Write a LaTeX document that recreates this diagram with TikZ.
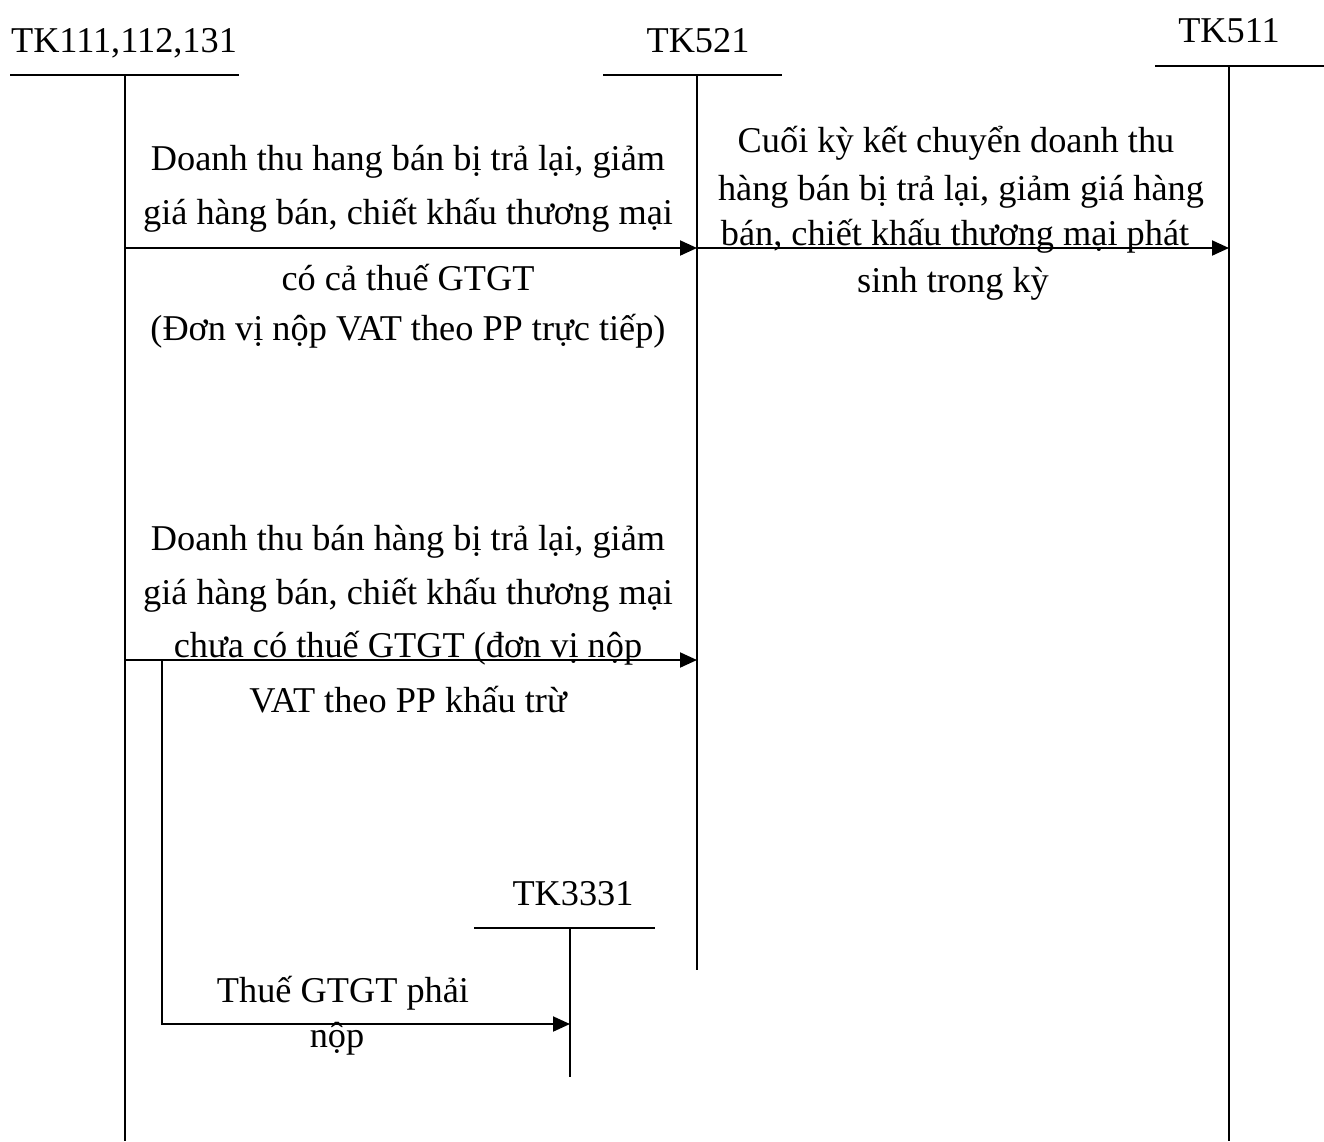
\documentclass[tikz,border=0pt]{standalone}
\usepackage{fontspec}
\setmainfont{Liberation Serif}
\usetikzlibrary{arrows.meta}
\begin{document}
\begin{tikzpicture}[x=1pt,y=-1pt,
  lbl/.style={font=\fontsize{36.3}{40}\selectfont, inner sep=0pt, anchor=base},
  acct/.style={line width=2pt},
  flow/.style={line width=2pt, -{Triangle[length=17pt,width=15pt]}}]
\useasboundingbox (0,0) rectangle (1324,1141);
% account labels
\node[lbl] (tk111) at (124,52) {TK111,112,131};
\node[lbl] (tk521) at (698,52) {TK521};
\node[lbl] (tk511) at (1229,42) {TK511};
\node[lbl] (tk3331) at (573,905) {TK3331};
% T-account coordinates
\coordinate (a1l) at (10,75); \coordinate (a1r) at (239,75);
\coordinate (a1t) at (125,75); \coordinate (a1b) at (125,1141);
\coordinate (a2l) at (603,75); \coordinate (a2r) at (782,75);
\coordinate (a2t) at (697,75); \coordinate (a2b) at (697,970);
\coordinate (a3l) at (1155,66); \coordinate (a3r) at (1324,66);
\coordinate (a3t) at (1229,66); \coordinate (a3b) at (1229,1141);
\coordinate (a4l) at (474,928); \coordinate (a4r) at (655,928);
\coordinate (a4t) at (570,928); \coordinate (a4b) at (570,1077);
\draw[acct] (a1l) -- (a1r); \draw[acct] (a1t) -- (a1b);
\draw[acct] (a2l) -- (a2r); \draw[acct] (a2t) -- (a2b);
\draw[acct] (a3l) -- (a3r); \draw[acct] (a3t) -- (a3b);
\draw[acct] (a4l) -- (a4r); \draw[acct] (a4t) -- (a4b);
% flows
\coordinate (f1s) at (125,248); \coordinate (f1e) at (697,248);
\coordinate (f2e) at (1229,248);
\coordinate (f3s) at (125,660); \coordinate (f3e) at (697,660);
\coordinate (f4s) at (162,660); \coordinate (f4c) at (162,1024); \coordinate (f4e) at (570,1024);
\draw[flow] (f1s) -- (f1e);
\draw[flow] (f1e) -- (f2e);
\draw[flow] (f3s) -- (f3e);
\draw[flow] (f4s) -- (f4c) -- (f4e);
% labels flow 1
\node[lbl] (t1a) at (408,170) {Doanh thu hang bán bị trả lại, giảm};
\node[lbl] (t1b) at (408,224) {giá hàng bán, chiết khấu thương mại};
\node[lbl] (t1c) at (408,290) {có cả thuế GTGT};
\node[lbl] (t1d) at (408,340) {(Đơn vị nộp VAT theo PP trực tiếp)};
% labels flow 2
\node[lbl] (t2a) at (956,152) {Cuối kỳ kết chuyển doanh thu};
\node[lbl] (t2b) at (961,200) {hàng bán bị trả lại, giảm giá hàng};
\node[lbl] (t2c) at (955,245) {bán, chiết khấu thương mại phát};
\node[lbl] (t2d) at (953,292) {sinh trong kỳ};
% labels flow 3
\node[lbl] (t3a) at (408,550) {Doanh thu bán hàng bị trả lại, giảm};
\node[lbl] (t3b) at (408,604) {giá hàng bán, chiết khấu thương mại};
\node[lbl] (t3c) at (408,657) {chưa có thuế GTGT (đơn vị nộp};
\node[lbl] (t3d) at (408,712) {VAT theo PP khấu trừ};
% labels flow 4
\node[lbl] (t4a) at (343,1002) {Thuế GTGT phải};
\node[lbl] (t4b) at (337,1047) {nộp};
\end{tikzpicture}
\end{document}
